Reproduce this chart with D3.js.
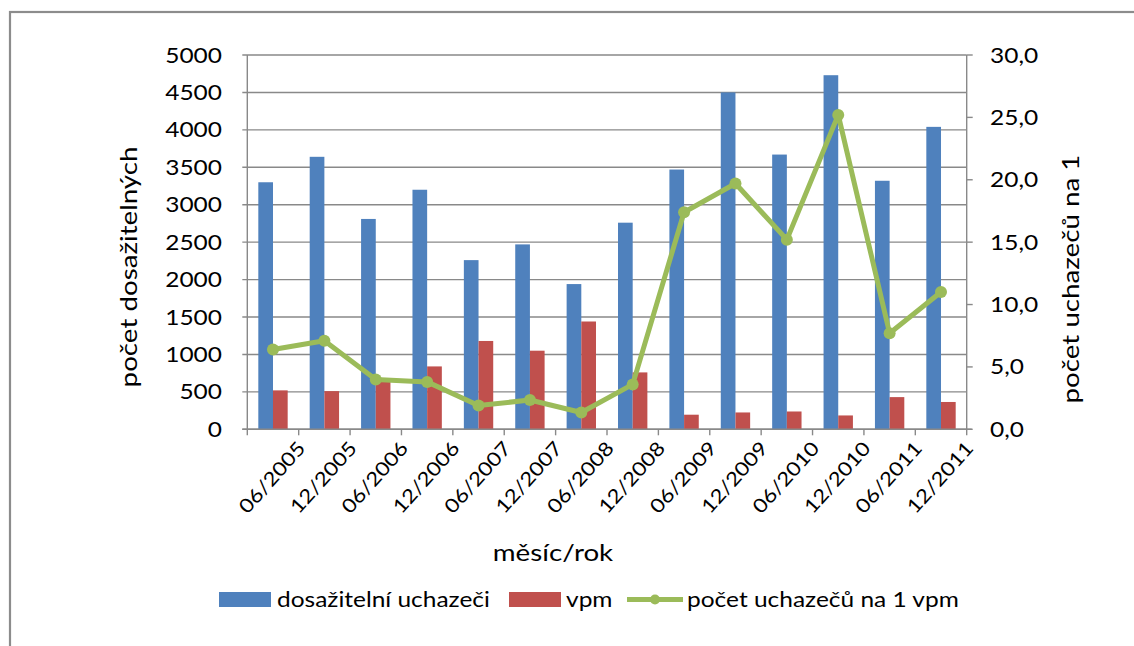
<!DOCTYPE html>
<html><head><meta charset="utf-8">
<script src="https://cdn.jsdelivr.net/npm/d3@7"></script>
<style>html,body{margin:0;padding:0;background:#fff;}svg{display:block;}text{font-family:Lato,"Open Sans",sans-serif;fill:#000;}</style>
</head><body>
<script>
const categories = ["06/2005","12/2005","06/2006","12/2006","06/2007","12/2007","06/2008","12/2008","06/2009","12/2009","06/2010","12/2010","06/2011","12/2011"];
const applicants = [3300,3640,2810,3200,2260,2470,1940,2760,3470,4500,3670,4730,3320,4040];
const vpm = [520,510,680,840,1180,1050,1440,760,195,225,238,185,430,365];
const ratio = [6.4,7.1,4.0,3.8,1.9,2.35,1.35,3.6,17.4,19.7,15.2,25.2,7.7,11.0];
const leftTicks = [0,500,1000,1500,2000,2500,3000,3500,4000,4500,5000];
const rightTicks = [0,5,10,15,20,25,30];
const seriesNames = ["dosažitelní uchazeči","vpm","počet uchazečů na 1 vpm"];
const xTitle = "měsíc/rok", yTitleLeft = "počet dosažitelných", yTitleRight = "počet uchazečů na 1";

const W=1134,H=646;
const L=247.3,R=966.7,T=55,B=429.3;
const BLUE="#4F81BD",RED="#C0504D",GREEN="#9BBB59",GRID="#898989";
const svg=d3.select("body").append("svg").attr("width",W).attr("height",H);
svg.append("rect").attr("x",10).attr("y",12).attr("width",1200).attr("height",700).attr("fill","none").attr("stroke","#8c8c8c").attr("stroke-width",2.2);

const FS=21;
const probe=svg.append("text").style("font-size",FS+"px").text(seriesNames[0]);
const SX=213/probe.node().getComputedTextLength();
probe.remove();

function txt(x,y,s,{rot=0,anchor="start",size=FS}={}){
  return svg.append("text").attr("transform",`translate(${x},${y}) rotate(${rot}) scale(${SX},1)`)
    .attr("text-anchor",anchor).style("font-size",size+"px").text(s);
}

const x=d3.scaleBand().domain(categories).range([L,R]);
const yL=d3.scaleLinear().domain([0,5000]).range([B,T]);
const yR=d3.scaleLinear().domain([0,30]).range([B,T]);
const bw=x.bandwidth(), barW=bw/3.5, off=(bw-2*barW)/2;

svg.append("g").selectAll("line").data(leftTicks).join("line")
  .attr("x1",L-5).attr("x2",R).attr("y1",d=>yL(d)).attr("y2",d=>yL(d))
  .attr("stroke",GRID).attr("stroke-width",1.4);
svg.append("line").attr("x1",L).attr("x2",L).attr("y1",T).attr("y2",B).attr("stroke",GRID).attr("stroke-width",1.4);
svg.append("line").attr("x1",R).attr("x2",R).attr("y1",T).attr("y2",B).attr("stroke",GRID).attr("stroke-width",1.4);
svg.append("g").selectAll("line").data(rightTicks).join("line")
  .attr("x1",R).attr("x2",R+6).attr("y1",d=>yR(d)).attr("y2",d=>yR(d)).attr("stroke",GRID).attr("stroke-width",1.4);

svg.append("g").selectAll("rect").data(applicants).join("rect")
  .attr("x",(d,i)=>x(categories[i])+off).attr("width",barW)
  .attr("y",d=>yL(d)).attr("height",d=>B-yL(d)).attr("fill",BLUE);
svg.append("g").selectAll("rect").data(vpm).join("rect")
  .attr("x",(d,i)=>x(categories[i])+off+barW).attr("width",barW)
  .attr("y",d=>yL(d)).attr("height",d=>B-yL(d)).attr("fill",RED);

svg.append("line").attr("x1",L-5).attr("x2",R+5).attr("y1",B).attr("y2",B).attr("stroke",GRID).attr("stroke-width",1.4);
const bounds=categories.map(c=>x(c)).concat([R]);
svg.append("g").selectAll("line").data(bounds).join("line")
  .attr("x1",d=>d).attr("x2",d=>d).attr("y1",B).attr("y2",B+6).attr("stroke",GRID).attr("stroke-width",1.4);

const cx=i=>x(categories[i])+bw/2;
svg.append("path").datum(ratio).attr("fill","none").attr("stroke",GREEN).attr("stroke-width",5).attr("stroke-linejoin","round")
  .attr("d",d3.line().x((d,i)=>cx(i)).y(d=>yR(d)));
svg.append("g").selectAll("circle").data(ratio).join("circle")
  .attr("cx",(d,i)=>cx(i)).attr("cy",d=>yR(d)).attr("r",6).attr("fill",GREEN);

leftTicks.forEach(v=>txt(222,yL(v)+7.5,String(v),{anchor:"end"}));
rightTicks.forEach(v=>txt(990,yR(v)+7.5,v.toFixed(1).replace(".",","),{anchor:"start"}));
categories.forEach((c,i)=>txt(cx(i)+4,482,c,{rot:-48,anchor:"middle",size:19.3}));

txt(137,267,yTitleLeft,{rot:-90,anchor:"middle",size:23.8});
txt(1079,279,yTitleRight,{rot:-90,anchor:"middle",size:23.8});
txt(553,561,xTitle,{anchor:"middle",size:23.8});

svg.append("rect").attr("x",219).attr("y",592).attr("width",52).attr("height",15).attr("fill",BLUE);
txt(277,607,seriesNames[0]);
svg.append("rect").attr("x",509).attr("y",592).attr("width",52).attr("height",15).attr("fill",RED);
txt(566,607,seriesNames[1]);
svg.append("line").attr("x1",627).attr("x2",683).attr("y1",599.5).attr("y2",599.5).attr("stroke",GREEN).attr("stroke-width",5);
svg.append("circle").attr("cx",655).attr("cy",599.5).attr("r",5).attr("fill",GREEN);
txt(687,607,seriesNames[2]);
</script>
</body></html>
